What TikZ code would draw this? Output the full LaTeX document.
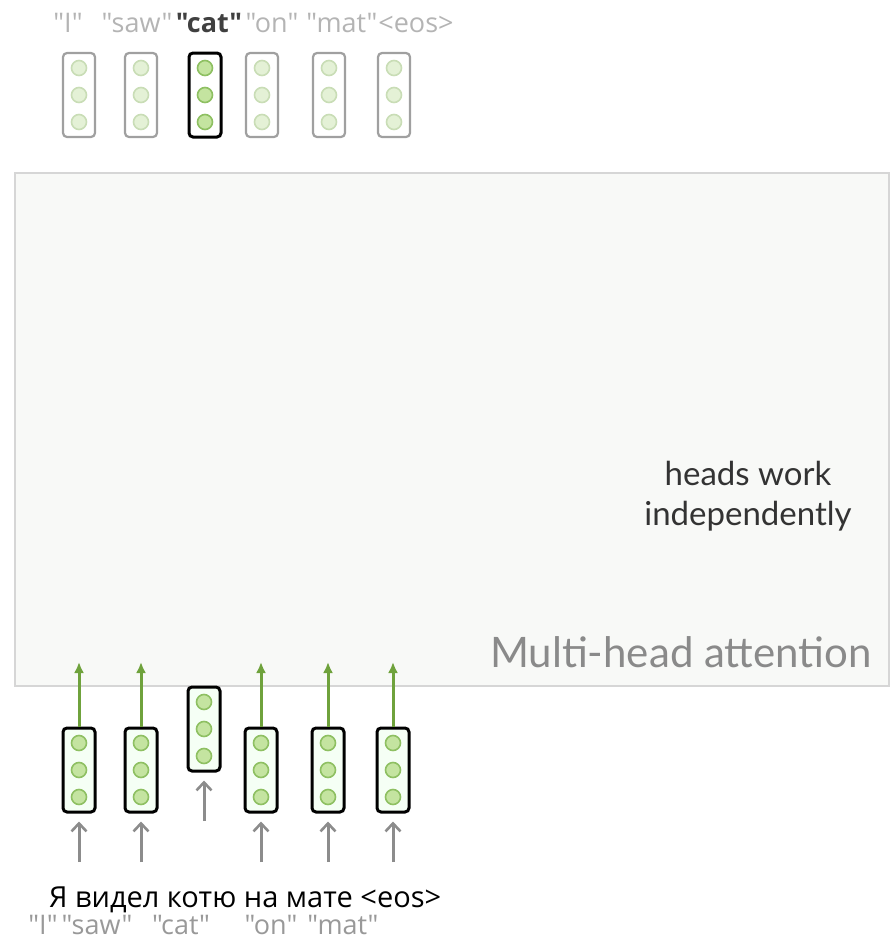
\documentclass[tikz,border=0pt]{standalone}
\usepackage{fontspec}
\usetikzlibrary{arrows.meta}
\newfontfamily\handfont{Open Sans}
\newfontfamily\uifont{Lato}
\definecolor{panelfill}{HTML}{F8F9F7}
\definecolor{panelline}{HTML}{D6D6D6}
\definecolor{vecgreen}{HTML}{C4E4A0}
\definecolor{vecgreenline}{HTML}{8EC062}
\definecolor{fadegreen}{HTML}{E4F1D6}
\definecolor{fadegreenline}{HTML}{C9DDB6}
\definecolor{fadebox}{HTML}{A0A0A0}
\definecolor{arrowgreen}{HTML}{6FA23C}
\definecolor{arrowgray}{HTML}{8C8C8C}
\definecolor{labelgray}{HTML}{B4B4B4}
\definecolor{titlegray}{HTML}{8A8A8A}
\definecolor{glossgray}{HTML}{999999}
\tikzset{
  vecbox/.style={draw=black, line width=3pt, rounded corners=4pt,
    minimum width=32pt, minimum height=84pt, inner sep=0pt, fill=#1},
  vecbox/.default=white,
  fadedbox/.style={vecbox, draw=fadebox, line width=2.2pt},
  cell/.style={circle, draw=vecgreenline, fill=vecgreen, line width=1.6pt,
    minimum size=15pt, inner sep=0pt},
  fadedcell/.style={cell, draw=fadegreenline, fill=fadegreen},
  uparrow/.style={draw=arrowgreen, line width=3pt,
    -{Latex[length=11pt,width=10pt]}},
  inarrow/.style={draw=arrowgray, line width=3pt,
    -{Straight Barb[length=8pt,width=15pt,line width=2.6pt]}},
  toplabel/.style={font=\handfont\fontsize{27}{30}\selectfont, text=labelgray,
    inner sep=0pt, anchor=base},
  glossword/.style={font=\handfont\fontsize{27}{30}\selectfont, text=glossgray,
    inner sep=0pt, anchor=base},
}
\begin{document}
\begin{tikzpicture}[x=1pt, y=-1pt]
\useasboundingbox (0,0) rectangle (891,948);

% attention block
\node[draw=panelline, fill=panelfill, line width=1.6pt, minimum width=874pt,
  minimum height=513pt, inner sep=0pt, anchor=north west] (mha) at (14,172) {};
\node[font=\uifont\fontsize{42}{44}\selectfont, text=titlegray, anchor=base east,
  inner sep=0pt] (mhatitle) at (872,667) {Multi-head attention};
\node[font=\uifont\fontsize{33}{40}\selectfont, text=black!80, align=center,
  inner sep=0pt] (heads) at (748,496) {heads work\\independently};

% output vectors (only the third one is highlighted)
\foreach \n/\x in {1/79, 2/141, 4/262, 5/329, 6/394} {
  \node[fadedbox] (o\n) at (\x,95) {};
  \foreach \k/\dy in {a/-27, b/0, c/27}
    \node[fadedcell] (o\n\k) at (\x,95+\dy) {};
}
\node[vecbox] (o3) at (205,95) {};
\foreach \k/\dy in {a/-27, b/0, c/27}
  \node[cell] (o3\k) at (205,95+\dy) {};

% output labels
\node[toplabel] (w1) at (68,32) {"I"};
\node[toplabel] (w2) at (137,32) {"saw"};
\node[toplabel, text=black!75, font=\handfont\bfseries\fontsize{27}{30}\selectfont] (w3) at (209,32) {"cat"};
\node[toplabel] (w4) at (272,32) {"on"};
\node[toplabel] (w5) at (342,32) {"mat"};
\node[toplabel] (w6) at (416,32) {<eos>};

% input vectors
\foreach \n/\x/\y in {1/79/770, 2/141/770, 3/204/729, 4/261/770, 5/328/770, 6/393/770} {
  \node[vecbox={green!4}] (i\n) at (\x,\y) {};
  \foreach \k/\dy in {a/-27, b/0, c/27}
    \node[cell] (i\n\k) at (\x,\y+\dy) {};
  \coordinate (src\n) at (\x,\y+92);
  \draw[inarrow, shorten >=8pt] (src\n) -- (i\n.south);
}

% vectors passed up into the attention block
\foreach \n/\x in {1/79, 2/141, 4/261, 5/328, 6/393} {
  \coordinate (up\n) at (\x,662);
  \draw[uparrow] (i\n.north) -- (up\n);
}

% source sentence and its word-by-word gloss
\node[font=\handfont\fontsize{29}{32}\selectfont, anchor=base west, inner sep=0pt]
  (src) at (49,907) {Я видел котю на мате <eos>};
\node[glossword] (g1) at (43,934) {"I"};
\node[glossword] (g2) at (97,934) {"saw"};
\node[glossword] (g3) at (181,934) {"cat"};
\node[glossword] (g4) at (271,934) {"on"};
\node[glossword] (g5) at (343,934) {"mat"};
\end{tikzpicture}
\end{document}
